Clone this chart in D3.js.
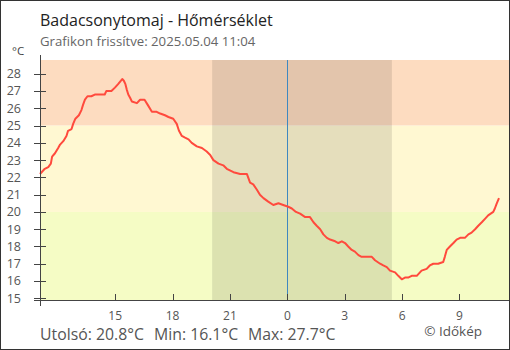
<!DOCTYPE html>
<html><head><meta charset="utf-8">
<script src="https://cdn.jsdelivr.net/npm/d3@7"></script>
<style>
html,body{margin:0;padding:0;background:#fff;}
svg{display:block;font-family:"Open Sans","Noto Sans",sans-serif;}
</style></head>
<body>
<svg id="chart" width="510" height="350"></svg>
<script>
// ---- data ----
const times = ["11:04","11:09","11:19","11:30","11:38","11:42","11:51","12:01","12:07","12:17","12:27","12:32","12:43","12:48","12:55","13:06","13:14","13:19","13:25","13:33","13:45","13:56","14:27","14:32","14:48","14:59","15:09","15:18","15:22","15:27","15:32","15:36","15:41","15:47","15:52","16:08","16:18","16:32","16:42","16:55","17:10","17:21","17:36","17:47","18:02","18:13","18:20","18:29","18:39","18:50","19:00","19:16","19:32","19:47","19:58","20:08","20:24","20:39","20:50","21:11","21:32","21:53","22:03","22:13","22:24","22:34","22:45","23:00","23:16","23:32","23:47","00:03","00:14","00:27","00:40","00:56","01:11","01:22","01:32","01:43","01:53","02:04","02:14","02:30","02:40","02:51","03:01","03:11","03:22","03:32","03:43","03:53","04:25","04:35","04:51","05:01","05:12","05:22","05:38","05:48","05:59","06:09","06:19","06:30","06:46","07:01","07:17","07:27","07:38","07:53","08:09","08:14","08:20","08:30","08:41","08:51","09:02","09:17","09:28","09:38","09:49","09:59","10:10","10:20","10:30","10:46","10:51","10:57","11:04"];
const temps = [22.2,22.3,22.5,22.6,22.8,23.2,23.4,23.7,23.9,24.1,24.4,24.7,24.8,25.1,25.4,25.6,25.9,26.2,26.5,26.7,26.7,26.8,26.8,27.0,27.0,27.2,27.4,27.6,27.7,27.6,27.4,27.1,26.8,26.6,26.4,26.3,26.5,26.5,26.2,25.8,25.8,25.7,25.6,25.5,25.4,25.1,24.7,24.4,24.3,24.2,24.0,23.8,23.7,23.5,23.3,23.0,22.8,22.7,22.5,22.3,22.2,22.2,21.7,21.6,21.3,21.0,20.8,20.6,20.4,20.5,20.4,20.3,20.2,20.0,19.9,19.7,19.7,19.4,19.2,19.0,18.7,18.5,18.4,18.3,18.2,18.3,18.2,18.0,17.8,17.7,17.5,17.4,17.4,17.2,17.0,16.9,16.8,16.6,16.5,16.3,16.1,16.2,16.2,16.3,16.3,16.6,16.7,16.9,17.0,17.0,17.1,17.4,17.8,18.0,18.2,18.4,18.5,18.5,18.7,18.8,19.0,19.2,19.4,19.6,19.8,20.0,20.2,20.5,20.8];
const yTicks = [15,16,17,18,19,20,21,22,23,24,25,26,27,28];
const xTickHours = [15,18,21,0,3,6,9];
const bands = [{from:25,to:28.8,color:"#fddcc0"},{from:20,to:25,color:"#fff8d2"},{from:14.9,to:20,color:"#f5fcc5"}];
const sunset = "20:04", sunrise = "05:28";
const title = "Badacsonytomaj - Hőmérséklet";
const subtitle = "Grafikon frissítve: 2025.05.04 11:04";
const unit = "°C";
const stats = ["Utolsó: 20.8°C","Min: 16.1°C","Max: 27.7°C"];
const credit = "© Időkép";

(function(){
const day0 = new Date(2025,4,3), day1 = new Date(2025,4,4);
function at(day, hm){const [h,m]=hm.split(":").map(Number);const d=new Date(day);d.setHours(h,m,0,0);return d;}
let curDay = day0, prevMin = -1;
const data = times.map((t,i)=>{
  const [h,m]=t.split(":").map(Number); const mm=h*60+m;
  if(mm<prevMin) curDay = day1; prevMin = mm;
  return {t:at(curDay,t), v:temps[i]};
});

const svg = d3.select("#chart");
const pL=40, pR=509, pT=60, pB=300;
const x = d3.scaleTime().domain([at(day0,"11:04"), at(day1,"11:04")]).range([40,499]);
const y = d3.scaleLinear().domain([14.9,28.8]).range([pB,pT]);

svg.selectAll("rect.band").data(bands).enter().append("rect")
  .attr("x",pL).attr("width",pR-pL)
  .attr("y",d=>y(d.to)).attr("height",d=>y(d.from)-y(d.to))
  .attr("fill",d=>d.color);
svg.append("rect").attr("x",x(at(day0,sunset))).attr("width",x(at(day1,sunrise))-x(at(day0,sunset)))
  .attr("y",pT).attr("height",pB-pT).attr("fill","#000").attr("opacity",0.1);
const mx = Math.round(x(day1))+0.5;
svg.append("line").attr("x1",mx).attr("x2",mx).attr("y1",pT).attr("y2",pB)
  .attr("stroke","#3f88c0").attr("stroke-width",1);

svg.append("path").datum(data)
  .attr("d",d3.line().x(d=>x(d.t)).y(d=>y(d.v)))
  .attr("fill","none").attr("stroke","#ff4a3d").attr("stroke-width",2).attr("stroke-linejoin","round");

const ax="#444";
svg.append("line").attr("x1",40.5).attr("x2",40.5).attr("y1",55).attr("y2",306).attr("stroke",ax);
svg.selectAll("line.yt").data(yTicks).enter().append("line")
  .attr("x1",34).attr("x2",46).attr("y1",d=>Math.round(y(d))+0.5).attr("y2",d=>Math.round(y(d))+0.5).attr("stroke",ax);
svg.selectAll("text.yl").data(yTicks).enter().append("text")
  .attr("x",21).attr("y",d=>y(d)).attr("dy","0.35em").attr("text-anchor","end")
  .attr("font-size",12.5).attr("fill","#555").text(d=>d);
svg.append("line").attr("x1",34).attr("x2",pR).attr("y1",300.5).attr("y2",300.5).attr("stroke",ax);
const xTicks = xTickHours.map(h=>h>=12?at(day0,h+":00"):at(day1,h+":00"));
svg.selectAll("line.xt").data(xTicks).enter().append("line")
  .attr("x1",d=>Math.round(x(d))+0.5).attr("x2",d=>Math.round(x(d))+0.5).attr("y1",294).attr("y2",300).attr("stroke",ax);
svg.selectAll("text.xl").data(xTicks).enter().append("text")
  .attr("x",d=>x(d)).attr("y",319.5).attr("text-anchor","middle")
  .attr("font-size",12).attr("fill","#555").text(d=>d.getHours());

svg.append("text").attr("x",40).attr("y",26).attr("font-size",16).attr("fill","#222").text(title);
svg.append("text").attr("x",40).attr("y",46).attr("font-size",13.2).attr("fill","#666").text(subtitle);
svg.append("text").attr("x",12).attr("y",55).attr("font-size",11.5).attr("fill","#444").text(unit);
const sx=[40,154,248];
svg.selectAll("text.st").data(stats).enter().append("text")
  .attr("x",(d,i)=>sx[i]).attr("y",340).attr("font-size",15.8).attr("fill","#555").text(d=>d);
svg.append("text").attr("x",482).attr("y",336).attr("text-anchor","end").attr("font-size",13.5).attr("fill","#555").text(credit);

svg.append("rect").attr("x",0.5).attr("y",0.5).attr("width",509).attr("height",349)
  .attr("fill","none").attr("stroke","#333").attr("stroke-width",1);
})();
</script>
</body></html>
